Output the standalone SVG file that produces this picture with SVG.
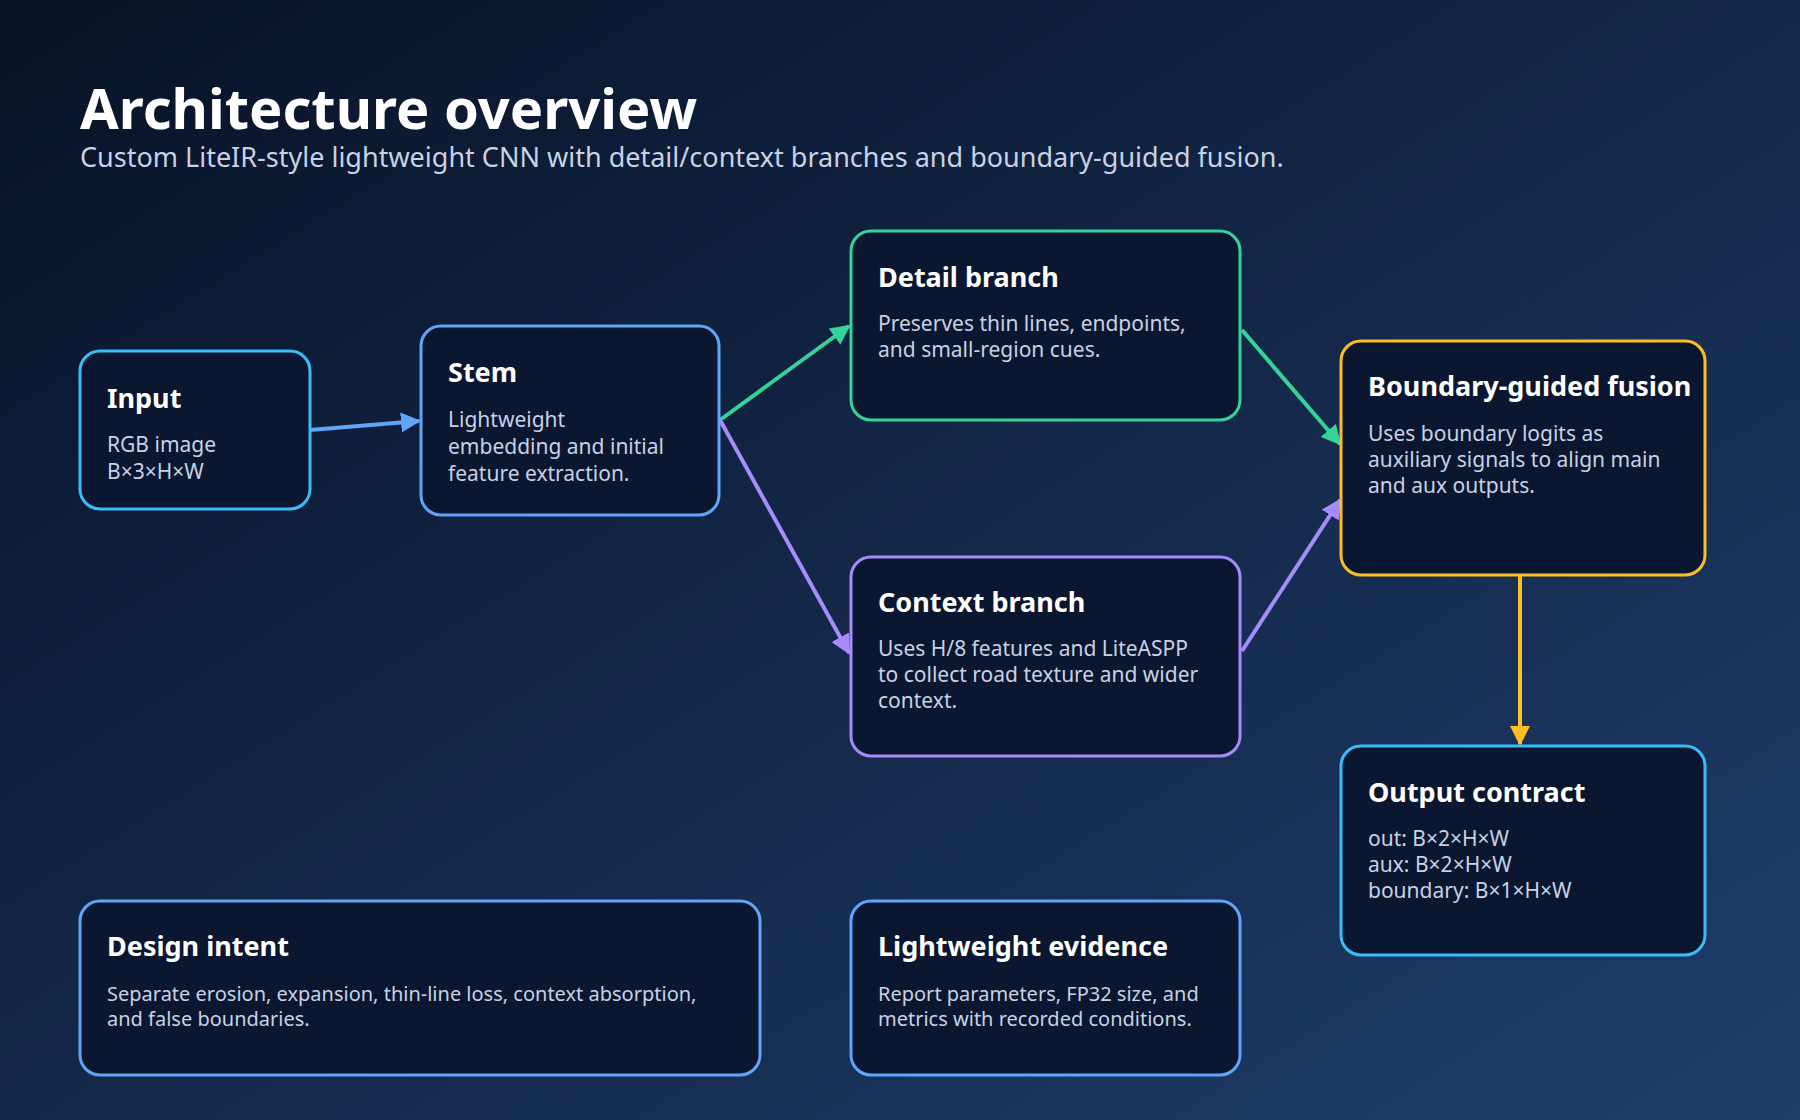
<svg xmlns="http://www.w3.org/2000/svg" width="1800" height="1120" viewBox="0 0 1800 1120">
<defs>
<linearGradient id="bg" x1="0" y1="0" x2="1" y2="1"><stop offset="0" stop-color="#081226"/><stop offset="1" stop-color="#1f3d6b"/></linearGradient>
<marker id="mb" viewBox="0 0 10 10" refX="9" refY="5" markerWidth="5" markerHeight="5" orient="auto"><path d="M0,0L10,5L0,10z" fill="#60a5fa"/></marker>
<marker id="mg" viewBox="0 0 10 10" refX="9" refY="5" markerWidth="5" markerHeight="5" orient="auto"><path d="M0,0L10,5L0,10z" fill="#34d399"/></marker>
<marker id="mp" viewBox="0 0 10 10" refX="9" refY="5" markerWidth="5" markerHeight="5" orient="auto"><path d="M0,0L10,5L0,10z" fill="#a78bfa"/></marker>
<marker id="ma" viewBox="0 0 10 10" refX="9" refY="5" markerWidth="5" markerHeight="5" orient="auto"><path d="M0,0L10,5L0,10z" fill="#fbbf24"/></marker>
</defs>
<style>
text{font-family:"Noto Sans","Open Sans",sans-serif}
.box{fill:#0b1730;stroke-width:3}
.t{fill:#fff;font-weight:700;font-size:27px}
.b{fill:#c7d2e4;font-size:21px}
.s{fill:#c7d2e4;font-size:20px}
.c{fill:none;stroke-width:4}
</style>
<rect width="1800" height="1120" fill="url(#bg)"/>
<text x="80" y="129" fill="#fff" font-weight="700" font-size="56">Architecture overview</text>
<text x="80" y="167" fill="#c7d2e4" font-size="27">Custom LiteIR-style lightweight CNN with detail/context branches and boundary-guided fusion.</text>
<g id="connectors">
<line class="c" x1="310" y1="430" x2="419" y2="421" stroke="#60a5fa" marker-end="url(#mb)"/>
<line class="c" x1="720" y1="420" x2="849" y2="326" stroke="#34d399" marker-end="url(#mg)"/>
<line class="c" x1="720" y1="420" x2="849" y2="653" stroke="#a78bfa" marker-end="url(#mp)"/>
<line class="c" x1="1242" y1="330" x2="1340" y2="444" stroke="#34d399" marker-end="url(#mg)"/>
<line class="c" x1="1242" y1="651" x2="1340" y2="500" stroke="#a78bfa" marker-end="url(#mp)"/>
<line class="c" x1="1520" y1="575" x2="1520" y2="744" stroke="#fbbf24" marker-end="url(#ma)"/>
</g>
<g id="input"><rect class="box" x="80" y="351" width="230" height="158" rx="20" stroke="#38bdf8"/>
<text class="t" x="107" y="408">Input</text><text class="b" x="107" y="452">RGB image</text><text class="b" x="107" y="479">B×3×H×W</text></g>
<g id="stem"><rect class="box" x="421" y="326" width="298" height="189" rx="20" stroke="#60a5fa"/>
<text class="t" x="448" y="382">Stem</text><text class="b" x="448" y="427">Lightweight</text><text class="b" x="448" y="454">embedding and initial</text><text class="b" x="448" y="481">feature extraction.</text></g>
<g id="detail"><rect class="box" x="851" y="231" width="389" height="189" rx="20" stroke="#34d399"/>
<text class="t" x="878" y="287">Detail branch</text><text class="b" x="878" y="331">Preserves thin lines, endpoints,</text><text class="b" x="878" y="357">and small-region cues.</text></g>
<g id="context"><rect class="box" x="851" y="557" width="389" height="199" rx="20" stroke="#a78bfa"/>
<text class="t" x="878" y="612">Context branch</text><text class="b" x="878" y="656">Uses H/8 features and LiteASPP</text><text class="b" x="878" y="682">to collect road texture and wider</text><text class="b" x="878" y="708">context.</text></g>
<g id="fusion"><rect class="box" x="1341" y="341" width="364" height="234" rx="20" stroke="#fbbf24"/>
<text class="t" x="1368" y="396">Boundary-guided fusion</text><text class="b" x="1368" y="441">Uses boundary logits as</text><text class="b" x="1368" y="467">auxiliary signals to align main</text><text class="b" x="1368" y="493">and aux outputs.</text></g>
<g id="output"><rect class="box" x="1341" y="746" width="364" height="209" rx="20" stroke="#38bdf8"/>
<text class="t" x="1368" y="802">Output contract</text><text class="b" x="1368" y="846">out: B×2×H×W</text><text class="b" x="1368" y="872">aux: B×2×H×W</text><text class="b" x="1368" y="898">boundary: B×1×H×W</text></g>
<g id="design"><rect class="box" x="80" y="901" width="680" height="174" rx="20" stroke="#60a5fa"/>
<text class="t" x="107" y="956">Design intent</text><text class="s" x="107" y="1001">Separate erosion, expansion, thin-line loss, context absorption,</text><text class="s" x="107" y="1026">and false boundaries.</text></g>
<g id="evidence"><rect class="box" x="851" y="901" width="389" height="174" rx="20" stroke="#60a5fa"/>
<text class="t" x="878" y="956">Lightweight evidence</text><text class="s" x="878" y="1001">Report parameters, FP32 size, and</text><text class="s" x="878" y="1026">metrics with recorded conditions.</text></g>
</svg>
